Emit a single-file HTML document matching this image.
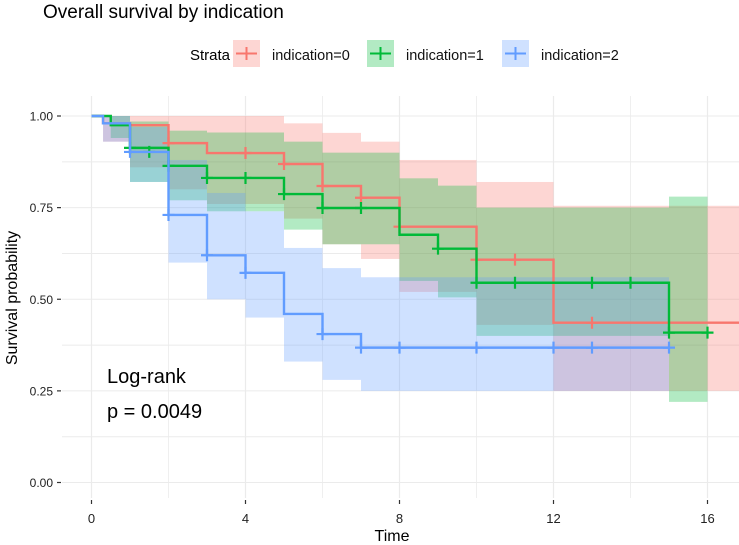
<!DOCTYPE html>
<html><head><meta charset="utf-8">
<style>
html,body{margin:0;padding:0;background:#fff;}
svg{display:block;font-family:"Liberation Sans",Arial,sans-serif;}
</style></head>
<body>
<svg id="chart" width="739" height="545" viewBox="0 0 739 545">
<text x="43" y="18" font-size="19" fill="#000">Overall survival by indication</text>
<g id="legend">
<text x="190" y="60" font-size="15">Strata</text>
</g>
<g id="grid"></g>
<g id="bands"></g>
<g id="lines"></g>
<g id="axes"></g>
<text x="107" y="383" font-size="20">Log-rank</text>
<text x="107" y="418" font-size="20">p = 0.0049</text>
<text transform="translate(17,298) rotate(-90)" text-anchor="middle" font-size="16">Survival probability</text>
<text x="392" y="541" text-anchor="middle" font-size="16">Time</text>
</svg>
<script>
// data
const strataNames = ["indication=0","indication=1","indication=2"];
const strataColors = ["#F8766D","#00BA38","#619CFF"];
const redTimes  = [0,0.3,1,2,3,5,6,7,8,10,12];
const redSurv   = [1,0.98,0.975,0.926,0.899,0.869,0.809,0.777,0.698,0.608,0.436];
const redLower  = [1,0.93,0.86,0.80,0.76,0.72,0.65,0.61,0.52,0.43,0.25];
const redUpper  = [1,1,1,1,1,0.98,0.954,0.93,0.88,0.82,0.755];
const redEnd = 17.2;
const redCensT = [2,4,5,6,7,8,10,11,13];
const redCensS = [0.926,0.899,0.869,0.809,0.777,0.698,0.608,0.608,0.436];
const greenTimes = [0,0.5,1,2,3,5,6,8,9,10,15];
const greenSurv  = [1,0.975,0.913,0.864,0.831,0.787,0.749,0.676,0.638,0.545,0.409];
const greenLower = [1,0.94,0.82,0.77,0.74,0.69,0.65,0.55,0.505,0.40,0.22];
const greenUpper = [1,1,0.985,0.96,0.955,0.93,0.90,0.83,0.81,0.75,0.78];
const greenEnd = 16;
const greenCensT = [1,1.5,2,3,4,5,6,7,9,10,11,13,14,15,16];
const greenCensS = [0.913,0.902,0.864,0.831,0.831,0.787,0.749,0.749,0.638,0.545,0.545,0.545,0.545,0.409,0.409];
const blueTimes = [0,0.3,1,2,3,4,5,6,7];
const blueSurv  = [1,0.98,0.902,0.73,0.62,0.572,0.46,0.405,0.368];
const blueLower = [1,0.93,0.82,0.60,0.50,0.45,0.33,0.28,0.25];
const blueUpper = [1,1,0.97,0.88,0.79,0.74,0.64,0.585,0.56];
const blueEnd = 15;
const blueCensT = [1,2,3,4,6,7,8,10,12,13,15];
const blueCensS = [0.902,0.73,0.62,0.572,0.405,0.368,0.368,0.368,0.368,0.368,0.368];
const xTicks = [0,4,8,12,16];
const yTicks = [0,0.25,0.5,0.75,1];
const yTickLabels = ["0.00","0.25","0.50","0.75","1.00"];

const NS="http://www.w3.org/2000/svg";
const PL=62, PR=739, PT=96, PB=498;
const X = t => 91.5 + t*38.5;
const Y = s => 482.5 - s*366.5;
function mk(tag, attrs, parent){const e=document.createElementNS(NS,tag);for(const k in attrs)e.setAttribute(k,attrs[k]);parent.appendChild(e);return e;}
const grid=document.getElementById('grid'), bands=document.getElementById('bands'), lines=document.getElementById('lines'), axes=document.getElementById('axes'), legend=document.getElementById('legend');

for(let t=-0; t<=18; t+=2){ if(X(t)>PR) break;
  const l=mk('line',{x1:X(t),x2:X(t),y1:PT,y2:PB,stroke:'#EBEBEB','stroke-width':t%4===0?1.2:0.8},grid);
  
  
}
for(let s=0; s<=1.0001; s+=0.125){
  const l=mk('line',{x1:PL,x2:PR,y1:Y(s),y2:Y(s),stroke:'#EBEBEB','stroke-width':1},grid);
  
  
}
const series=[
  {times:redTimes,surv:redSurv,lo:redLower,hi:redUpper,end:redEnd,ct:redCensT,cs:redCensS},
  {times:greenTimes,surv:greenSurv,lo:greenLower,hi:greenUpper,end:greenEnd,ct:greenCensT,cs:greenCensS},
  {times:blueTimes,surv:blueSurv,lo:blueLower,hi:blueUpper,end:blueEnd,ct:blueCensT,cs:blueCensS}
];
series.forEach((sr,k)=>{
  const c=strataColors[k];
  let d=`M${X(sr.times[0])},${Y(sr.surv[0])}`;
  for(let i=0;i<sr.times.length;i++){
    const t1 = i+1<sr.times.length? sr.times[i+1] : sr.end;
    d+=` L${X(t1)},${Y(sr.surv[i])}`;
    if(i+1<sr.times.length) d+=` L${X(t1)},${Y(sr.surv[i+1])}`;
  }
  const p=mk('path',{d:d,fill:'none',stroke:c,'stroke-width':2.4},lines);
  
  
  sr.ct.forEach((t,j)=>{
    const x=X(t), y=Y(sr.cs[j]);
    const m=mk('path',{d:`M${x-6},${y} H${x+6} M${x},${y-6} V${y+6}`,stroke:c,'stroke-width':2.2},lines);
    
    
  });
});
series.forEach((sr,k)=>{
  const c=strataColors[k];
  for(let i=0;i<sr.times.length;i++){
    const t0=sr.times[i], t1=i+1<sr.times.length? sr.times[i+1] : sr.end;
    const x0=X(t0), x1=Math.min(X(t1),PR);
    const r=mk('rect',{x:x0,y:Y(sr.hi[i]),width:x1-x0,height:Y(sr.lo[i])-Y(sr.hi[i]),fill:c,'fill-opacity':0.3},bands);
    
    
  }
});
xTicks.forEach(t=>{
  const l=mk('line',{x1:X(t),x2:X(t),y1:PB+2,y2:PB+6,stroke:'#333','stroke-width':1.2},axes);
  
  
  const tx=mk('text',{x:X(t),y:523,'text-anchor':'middle','font-size':13,fill:'#222'},axes);
  tx.textContent=t;
  
  
});
yTicks.forEach((s,i)=>{
  const l=mk('line',{x1:57,x2:61,y1:Y(s),y2:Y(s),stroke:'#333','stroke-width':1.2},axes);
  
  
  const tx=mk('text',{x:53,y:Y(s)+4.5,'text-anchor':'end','font-size':12,fill:'#222'},axes);
  tx.textContent=yTickLabels[i];
  
  
});
const keyX=[233,367,502];
strataNames.forEach((n,k)=>{
  const x=keyX[k], c=strataColors[k];
  const g=mk('g',{},legend);
  
  
  mk('rect',{x:x,y:40,width:27,height:27,fill:c,'fill-opacity':0.3},g);
  mk('path',{d:`M${x+3},53.5 H${x+24} M${x+13.5},47 V60`,stroke:c,'stroke-width':2},g);
  const t=mk('text',{x:x+39,y:60,'font-size':14.5,fill:'#111'},g);
  t.textContent=n;
});
</script>
</body></html>
